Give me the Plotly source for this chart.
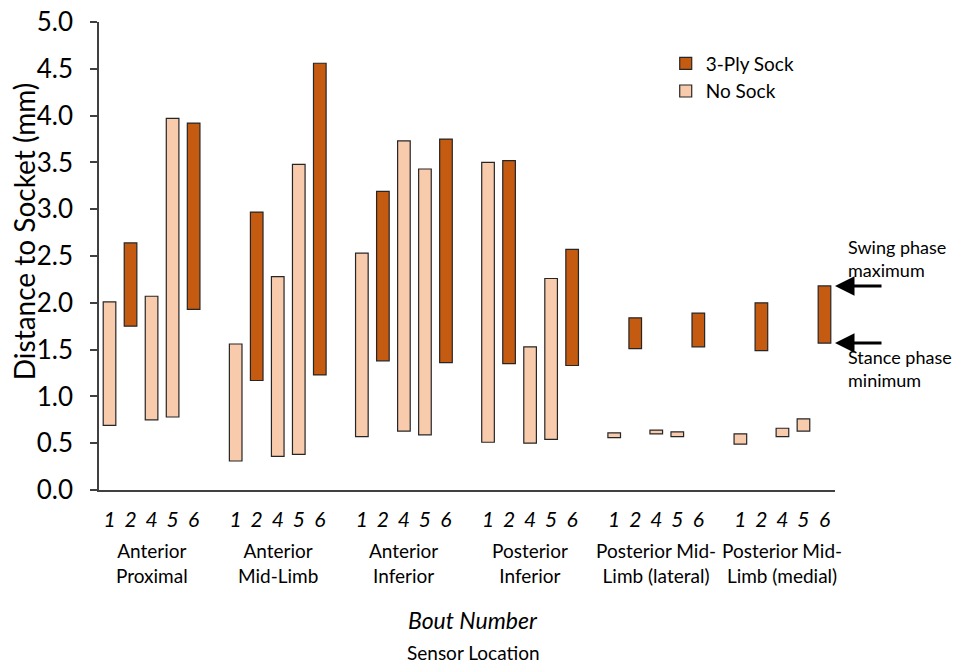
import plotly.graph_objects as go

# ---------------- data ----------------
locations = ["Anterior<br>Proximal", "Anterior<br>Mid-Limb", "Anterior<br>Inferior",
             "Posterior<br>Inferior", "Posterior Mid-<br>Limb (lateral)", "Posterior Mid-<br>Limb (medial)"]
bouts = ["1", "2", "4", "5", "6"]
bout_condition = ["No Sock", "3-Ply Sock", "No Sock", "No Sock", "3-Ply Sock"]

# stance phase minimum (bar bottom) per location, bouts 1,2,4,5,6
stance_min = [
    [0.69, 1.75, 0.75, 0.78, 1.93],
    [0.31, 1.17, 0.36, 0.38, 1.23],
    [0.57, 1.38, 0.63, 0.59, 1.36],
    [0.51, 1.35, 0.50, 0.54, 1.33],
    [0.56, 1.51, 0.60, 0.57, 1.53],
    [0.49, 1.49, 0.57, 0.63, 1.57],
]
# swing phase maximum (bar top)
swing_max = [
    [2.01, 2.64, 2.07, 3.97, 3.92],
    [1.56, 2.97, 2.28, 3.48, 4.56],
    [2.53, 3.19, 3.73, 3.43, 3.75],
    [3.50, 3.52, 1.53, 2.26, 2.57],
    [0.61, 1.84, 0.64, 0.62, 1.89],
    [0.60, 2.00, 0.66, 0.76, 2.18],
]
y_ticks = [0.0, 0.5, 1.0, 1.5, 2.0, 2.5, 3.0, 3.5, 4.0, 4.5, 5.0]

colors = {"3-Ply Sock": "#C55A11", "No Sock": "#F8CBAD"}
FONT = "Lato, 'Open Sans', sans-serif"

# category slots: 5 bouts per location + one empty slot between locations
slot = len(bouts) + 1
tickvals, ticktext = [], []
series = {"3-Ply Sock": {"x": [], "base": [], "h": []}, "No Sock": {"x": [], "base": [], "h": []}}
for g, loc in enumerate(locations):
    for i, b in enumerate(bouts):
        x = g * slot + i
        tickvals.append(x)
        ticktext.append(b)
        c = bout_condition[i]
        series[c]["x"].append(x)
        series[c]["base"].append(stance_min[g][i])
        series[c]["h"].append(round(swing_max[g][i] - stance_min[g][i], 3))

fig = go.Figure()
for name in ["3-Ply Sock", "No Sock"]:
    s = series[name]
    fig.add_trace(go.Bar(
        x=s["x"], y=s["h"], base=s["base"], name=name, width=0.6,
        marker=dict(color=colors[name], line=dict(color="#262626", width=1.2)),
    ))

n_slots = len(locations) * slot - 1
fig.update_layout(
    width=952, height=655,
    margin=dict(l=91, r=125, t=13.5, b=172.5, autoexpand=False),
    paper_bgcolor="white", plot_bgcolor="white",
    font=dict(family=FONT, color="#000000"),
    barmode="overlay",
    showlegend=True,
    legend=dict(x=0.77, y=0.952, xanchor="left", yanchor="top",
                font=dict(size=19, family=FONT), bgcolor="rgba(0,0,0,0)",
                tracegroupgap=0, itemwidth=30),
    xaxis=dict(range=[-0.5, n_slots - 0.5], tickvals=tickvals, ticktext=ticktext,
               tickfont=dict(size=21, style="italic", family=FONT), ticks="",
               showline=True, linecolor="#404040", linewidth=1.5, showgrid=False,
               zeroline=False, ticklabelstandoff=10, automargin=False),
    yaxis=dict(range=[0, 5.0005], tickvals=y_ticks, ticktext=[f"{v:.1f}" for v in y_ticks],
               ticks="outside", ticklen=7,
               tickcolor="#404040", tickwidth=1.5,
               tickfont=dict(size=26, family=FONT), ticklabeloverflow="allow",
               showline=True, linecolor="#404040", linewidth=1.5, showgrid=False,
               zeroline=False, ticklabelstandoff=12, automargin=False),
)

annotations = []
for g, loc in enumerate(locations):
    annotations.append(dict(
        x=g * slot + (len(bouts) - 1) / 2, xref="x", y=0, yref="paper",
        yanchor="top", yshift=-47, text=loc, showarrow=False,
        font=dict(size=19, family=FONT), align="center"))
annotations += [
    dict(x=0.5, xref="paper", y=0, yref="paper", yanchor="middle", yshift=-130,
         xshift=6, text="Bout Number", showarrow=False,
         font=dict(size=23, family=FONT, style="italic")),
    dict(x=0.5, xref="paper", y=0, yref="paper", yanchor="middle", yshift=-162,
         xshift=6, text="Sensor Location", showarrow=False,
         font=dict(size=19, family=FONT)),
    dict(x=0, xref="paper", y=0.553, yref="paper", xanchor="center", yanchor="middle",
         xshift=-75, text="Distance to Socket (mm)", textangle=-90, showarrow=False,
         font=dict(size=28, family=FONT)),
    # arrows pointing at the last bar's max and min
    dict(x=n_slots - 0.5, xref="x", y=swing_max[-1][-1], yref="y", ax=48, ay=0,
         axref="pixel", ayref="pixel", text="", showarrow=True, arrowhead=2,
         arrowsize=1.3, arrowwidth=3, arrowcolor="#000000"),
    dict(x=n_slots - 0.5, xref="x", y=stance_min[-1][-1], yref="y", ax=48, ay=0,
         axref="pixel", ayref="pixel", text="", showarrow=True, arrowhead=2,
         arrowsize=1.3, arrowwidth=3, arrowcolor="#000000"),
    dict(x=1, xref="paper", y=swing_max[-1][-1], yref="y", xanchor="left", yanchor="bottom",
         xshift=11, yshift=3, text="Swing phase<br>maximum", showarrow=False, align="left",
         font=dict(size=18, family=FONT)),
    dict(x=1, xref="paper", y=stance_min[-1][-1], yref="y", xanchor="left", yanchor="top",
         xshift=11, yshift=-1, text="Stance phase<br>minimum", showarrow=False, align="left",
         font=dict(size=18, family=FONT)),
]
fig.update_layout(annotations=annotations)

fig.write_html("out.html")
